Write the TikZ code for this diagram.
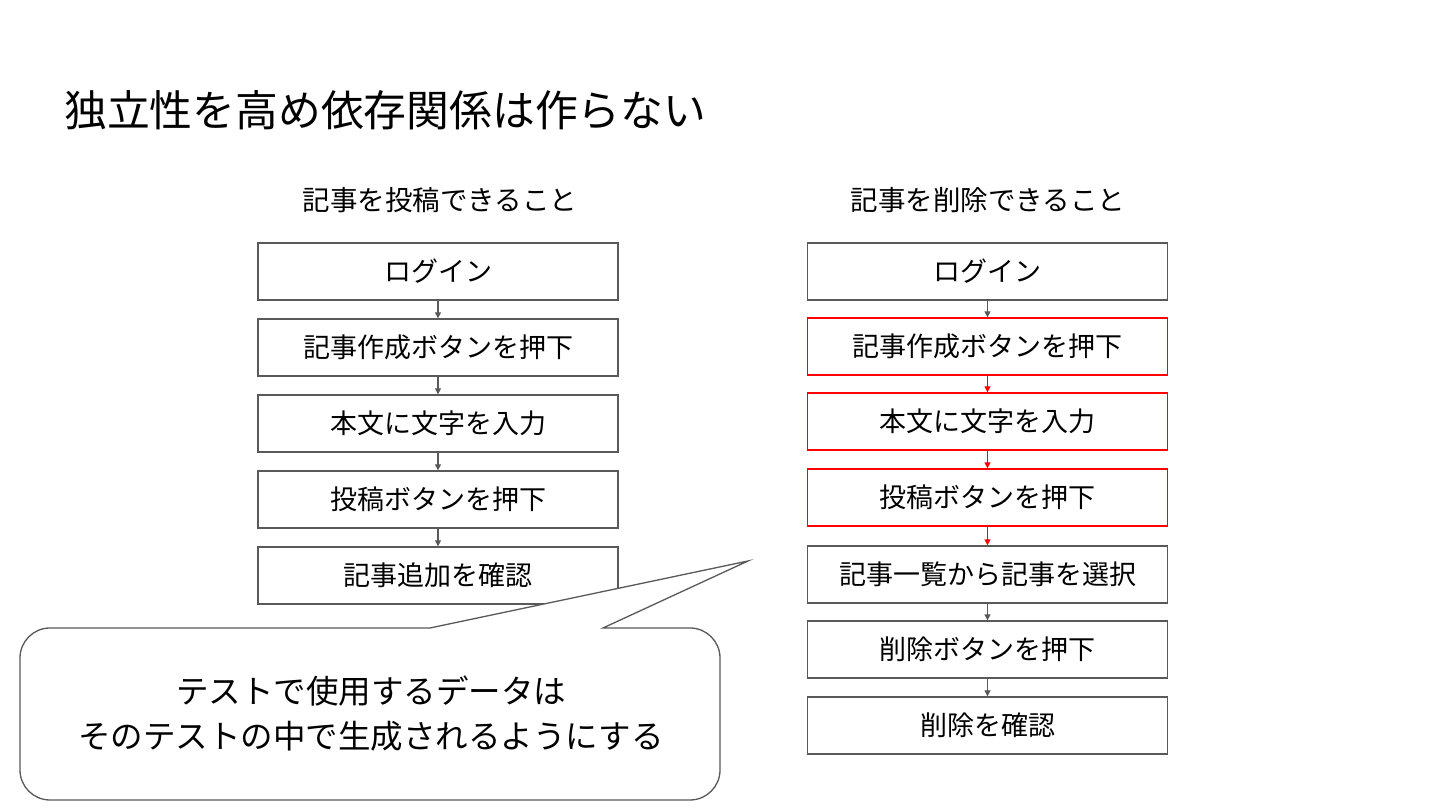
\documentclass[tikz,border=0pt]{standalone}
\usepackage{fontspec}
\setmainfont{Noto Sans CJK JP}
\usetikzlibrary{arrows.meta}
\definecolor{bordergray}{HTML}{595959}
\definecolor{arrowgray}{HTML}{595959}
\definecolor{redline}{HTML}{FF0000}
\tikzset{
  stepbox/.style={draw=bordergray, line width=1.3pt, fill=white, minimum width=360pt, minimum height=57pt, inner sep=0pt, font=\fontsize{27}{32}\selectfont},
  redbox/.style={stepbox, draw=redline},
  flowarrow/.style={draw=arrowgray, line width=1.2pt, -{Triangle[length=6pt,width=6pt]}},
  redarrow/.style={flowarrow, draw=redline, fill=redline},
  heading/.style={font=\fontsize{27.5}{32}\selectfont, inner sep=0pt},
}
\begin{document}
\begin{tikzpicture}[x=1pt,y=1pt]
\useasboundingbox (0,0) rectangle (1440,810);
\fill[white] (0,0) rectangle (1440,810);
% title
\node[anchor=west, inner sep=0pt, font=\fontsize{42.8}{50}\selectfont] (title) at (64,700) {独立性を高め依存関係は作らない};
% headings
\node[heading] (hL) at (440,610) {記事を投稿できること};
\node[heading] (hR) at (988,610) {記事を削除できること};
% left column
\node[stepbox] (L1) at (438,538.5) {ログイン};
\node[stepbox] (L2) at (438,462.5) {記事作成ボタンを押下};
\node[stepbox] (L3) at (438,386.5) {本文に文字を入力};
\node[stepbox] (L4) at (438,310.5) {投稿ボタンを押下};
\node[stepbox] (L5) at (438,234.5) {記事追加を確認};
\draw[flowarrow] (L1.south) -- (L2.north);
\draw[flowarrow] (L2.south) -- (L3.north);
\draw[flowarrow] (L3.south) -- (L4.north);
\draw[flowarrow] (L4.south) -- (L5.north);
% right column
\node[stepbox] (R1) at (987.5,538.5) {ログイン};
\node[redbox] (R2) at (987.5,463.5) {記事作成ボタンを押下};
\node[redbox] (R3) at (987.5,388.5) {本文に文字を入力};
\node[redbox] (R4) at (987.5,312.5) {投稿ボタンを押下};
\node[stepbox] (R5) at (987.5,235.5) {記事一覧から記事を選択};
\node[stepbox] (R6) at (987.5,160.5) {削除ボタンを押下};
\node[stepbox] (R7) at (987.5,84.5) {削除を確認};
\draw[flowarrow] (R1.south) -- (R2.north);
\draw[redarrow] (R2.south) -- (R3.north);
\draw[redarrow] (R3.south) -- (R4.north);
\draw[redarrow] (R4.south) -- (R5.north);
\draw[flowarrow] (R5.south) -- (R6.north);
\draw[flowarrow] (R6.south) -- (R7.north);
% callout
\coordinate (tip) at (748,249);
\draw[bordergray, line width=1.3pt, fill=white, line join=miter]
  (430,182) -- (tip) -- (603,182) -- (690,182)
  arc[start angle=90, end angle=0, radius=30] -- (720,40)
  arc[start angle=0, end angle=-90, radius=30] -- (50,10)
  arc[start angle=270, end angle=180, radius=30] -- (20,152)
  arc[start angle=180, end angle=90, radius=30] -- cycle;
\node[align=center, inner sep=0pt, font=\fontsize{32.5}{45}\selectfont] (note) at (371,96) {テストで使用するデータは\\そのテストの中で生成されるようにする};
\end{tikzpicture}
\end{document}
